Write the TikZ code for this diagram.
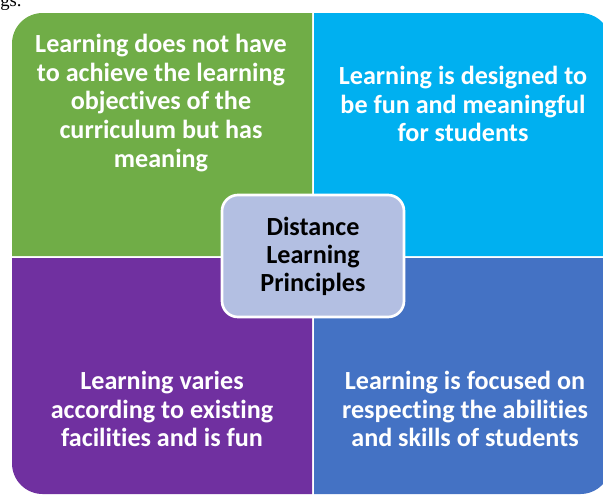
\documentclass[tikz,border=0pt]{standalone}
\usepackage{fontspec}
\setmainfont[Ligatures=NoCommon]{Carlito}
\newfontfamily\serifcut{Liberation Serif}
\definecolor{qgreen}{HTML}{70AD47}
\definecolor{qcyan}{HTML}{00B0F0}
\definecolor{qpurple}{HTML}{7030A0}
\definecolor{qblue}{HTML}{4472C4}
\definecolor{hubfill}{HTML}{B3BFE2}
\tikzset{
  quadtext/.style={text=white,font=\fontsize{19.6}{21.4}\selectfont\bfseries,align=center},
  hubbox/.style={draw=white,line width=2pt,fill=hubfill,rounded corners=12pt,
    minimum width=136.5pt,minimum height=91.5pt,text=black,inner sep=0pt,
    font=\fontsize{19.6}{21}\selectfont\bfseries,align=center}
}
\begin{document}
\begin{tikzpicture}[x=.75pt,y=-.75pt]
  \useasboundingbox (0,0) rectangle (603,494);
  % cut-off text above the figure
  \node[anchor=base west,inner sep=0pt,font=\serifcut\fontsize{14}{16}\selectfont] (cut) at (0,6) {gs.};
  % four quadrants, outer corners rounded
  \fill[qgreen] (312,256) -- (12,256) [rounded corners=23pt] -- (12,13) [sharp corners] -- (312,13) -- cycle;
  \fill[qcyan] (314,256) -- (314,13) [rounded corners=23pt] -- (611,13) [sharp corners] -- (611,256) -- cycle;
  \fill[qpurple] (312,258) -- (12,258) [rounded corners=23pt] -- (12,494) [sharp corners] -- (312,494) -- cycle;
  \fill[qblue] (314,258) -- (314,494) [rounded corners=23pt] -- (611,494) [sharp corners] -- (611,258) -- cycle;
  % texts
  \node[quadtext] (tl) at (161,103) {Learning does not have\\to achieve the learning\\objectives of the\\curriculum but has\\meaning};
  \node[quadtext] (tr) at (463,104) {Learning is designed to\\be fun and meaningful\\for students};
  \node[quadtext] (bl) at (162,409) {Learning varies\\according to existing\\facilities and is fun};
  \node[quadtext] (br) at (465,409) {Learning is focused on\\respecting the abilities\\and skills of students};
  % centre
  \node[hubbox] (hub) at (313,256) {Distance\\Learning\\Principles};
\end{tikzpicture}
\end{document}
